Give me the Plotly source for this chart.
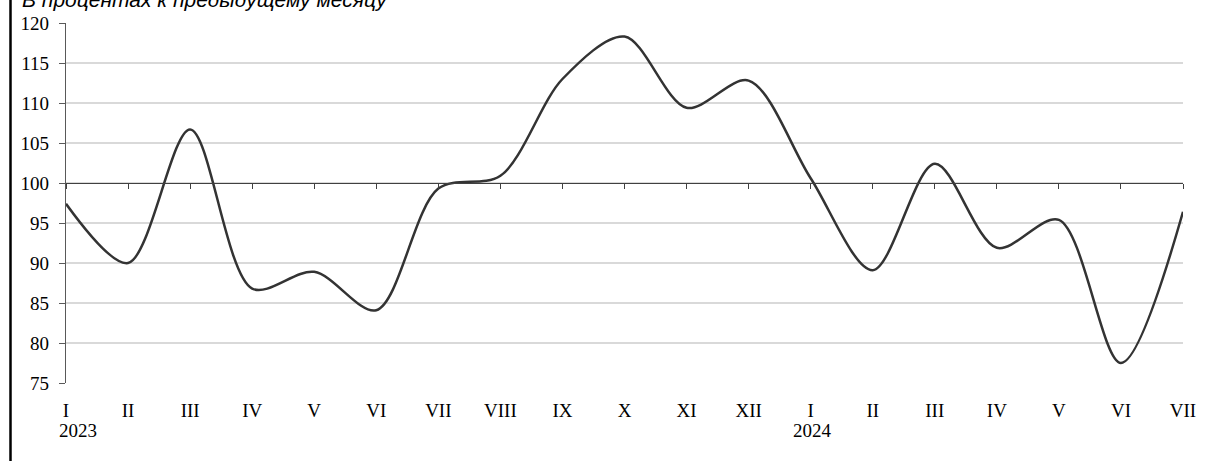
import plotly.graph_objects as go

months = ["I", "II", "III", "IV", "V", "VI", "VII", "VIII", "IX", "X", "XI", "XII",
          "I", "II", "III", "IV", "V", "VI", "VII"]
values = [97.4, 90.0, 106.7, 86.8, 88.9, 84.1, 99.3, 100.9, 113.0, 118.3, 109.4, 112.8,
          100.6, 89.1, 102.4, 91.9, 95.4, 77.5, 96.4]
years = [("2023", 0), ("2024", 12)]
title_text = "В процентах к предыдущему месяцу"

W, H = 1216, 461
L, T = 66, 23
PW, PH = 1117, 360
R, B = W - L - PW, H - T - PH

# helpers in page pixel coordinates (plot area spans x 66..1183, y 23..383)
def py(pix):
    return 1 - (pix - T) / PH

def px(pix):
    return (pix - L) / PW

xs = list(range(len(values)))

fig = go.Figure()
fig.add_trace(go.Scatter(x=xs, y=values, mode="lines",
                         line=dict(color="#333333", width=2.5, shape="spline", smoothing=0.9),
                         hoverinfo="skip", showlegend=False))

tickfont = dict(family="Liberation Serif, Times New Roman, serif", size=19, color="#000000")

fig.update_layout(
    width=W, height=H, autosize=False,
    margin=dict(l=L, r=R, t=T, b=B, pad=0, autoexpand=False),
    paper_bgcolor="white", plot_bgcolor="white",
    showlegend=False,
    xaxis=dict(range=[0, len(values) - 1], tickvals=xs, showticklabels=False,
               ticks="outside", ticklen=5, tickwidth=1.2, tickcolor="#404040",
               showline=True, linecolor="#404040", linewidth=1.3,
               showgrid=False, zeroline=False, automargin=False,
               anchor="free", position=(100 - 75) / (120 - 75), side="bottom"),
    xaxis2=dict(range=[0, len(values) - 1], overlaying="x", anchor="y", side="bottom",
                tickvals=xs, ticktext=months, ticks="", showline=False, showgrid=False,
                zeroline=False, tickfont=tickfont, ticklabelstandoff=14, automargin=False),
    yaxis=dict(range=[75, 120], dtick=5, tick0=75,
               ticks="outside", ticklen=6, tickwidth=1.2, tickcolor="#595959",
               showline=True, linecolor="#595959", linewidth=1.3,
               showgrid=True, gridcolor="#d9d9d9", gridwidth=1.5,
               zeroline=False, tickfont=tickfont, ticklabelstandoff=6, automargin=False),
)

fig.add_trace(go.Scatter(x=[None], y=[None], xaxis="x2", yaxis="y", showlegend=False,
                         hoverinfo="skip"))

for label, pos in years:
    if pos == 0:
        fig.add_annotation(x=pos, y=py(430.5), xref="x", yref="paper", text=label,
                           showarrow=False, xanchor="left", yanchor="middle",
                           xshift=-9, font=tickfont)
    else:
        fig.add_annotation(x=pos, y=py(430.5), xref="x", yref="paper", text=label,
                           showarrow=False, xanchor="center", yanchor="middle",
                           xshift=2, font=tickfont)

fig.add_annotation(x=px(20), y=py(-0.5), xref="paper", yref="paper", text=title_text,
                   showarrow=False, xanchor="left", yanchor="middle",
                   font=dict(family="Liberation Sans, Arial, sans-serif", size=21,
                             color="#000000", style="italic"))

fig.add_shape(type="line", xref="paper", yref="paper",
              x0=px(10.5), x1=px(10.5), y0=py(H + 30), y1=py(-10),
              line=dict(color="#000000", width=2.5))

fig.write_html(
    "out.html",
    config={"displayModeBar": False},
    post_script="document.documentElement.style.margin='0';"
                "document.body.style.margin='0';"
                "document.body.style.overflow='hidden';",
)
